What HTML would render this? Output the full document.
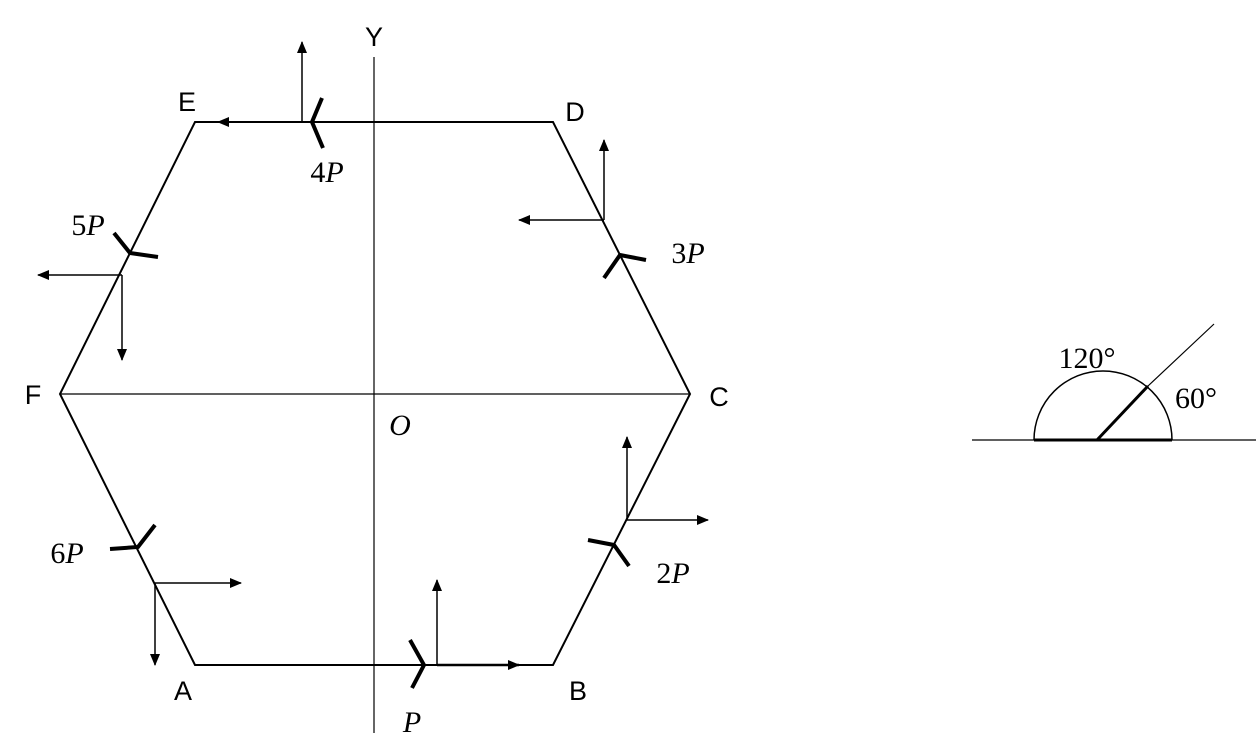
<!DOCTYPE html>
<html><head><meta charset="utf-8"><style>
html,body{margin:0;padding:0;background:#fff;}
svg{display:block;}
.sans{font-family:"Liberation Sans",sans-serif;font-size:27px;}
.mth{font-family:"Liberation Serif",serif;font-size:30px;}
</style></head><body>
<svg width="1258" height="749" viewBox="0 0 1258 749">
<defs>
<marker id="ah" markerWidth="12" markerHeight="10" refX="11" refY="5" orient="auto" markerUnits="userSpaceOnUse"><path d="M0,0 L12,5 L0,10 Z" fill="#000"/></marker>
</defs>
<g stroke="#000" fill="none" stroke-width="2">
<polygon points="195,665 553,665 690,394 553,122 195,122 60,394"/>
</g>
<line x1="60" y1="394" x2="690" y2="394" stroke="#000" stroke-width="1.2"/>
<line x1="374" y1="57" x2="374" y2="733" stroke="#000" stroke-width="1.2"/>
<g stroke="#000" stroke-width="1.5" marker-end="url(#ah)">
<line x1="437" y1="665" x2="519" y2="665" stroke-width="2.5"/>
<line x1="437" y1="665" x2="437" y2="580"/>
<line x1="302" y1="122" x2="218" y2="122" stroke-width="2"/>
<line x1="302" y1="122" x2="302" y2="42"/>
<line x1="604" y1="220" x2="604" y2="140"/>
<line x1="604" y1="220" x2="519" y2="220"/>
<line x1="627" y1="520" x2="627" y2="437"/>
<line x1="627" y1="520" x2="708" y2="520"/>
<line x1="122" y1="275" x2="38" y2="275"/>
<line x1="122" y1="275" x2="122" y2="360"/>
<line x1="155" y1="583" x2="241" y2="583"/>
<line x1="155" y1="583" x2="155" y2="665"/>
</g>
<g stroke="#000" stroke-width="4" fill="none">
<polyline points="410,640 424,665 412,688"/>
<polyline points="322,98 312,122 323,148"/>
<polyline points="604,278 620,255 646,260"/>
<polyline points="588,540 614,545 629,566"/>
<polyline points="114,233 130,253 158,257"/>
<polyline points="110,549 138,547 155,525"/>
</g>
<g class="sans" text-anchor="middle">
<text x="374" y="46">Y</text>
<text x="187" y="111">E</text>
<text x="575" y="121">D</text>
<text x="33" y="404">F</text>
<text x="719" y="406">C</text>
<text x="183" y="700">A</text>
<text x="578" y="700">B</text>
</g>
<g class="mth" text-anchor="middle">
<text x="400" y="435" font-style="italic">O</text>
<text x="327" y="182">4<tspan font-style="italic">P</tspan></text>
<text x="88" y="235">5<tspan font-style="italic">P</tspan></text>
<text x="688" y="263">3<tspan font-style="italic">P</tspan></text>
<text x="673" y="583">2<tspan font-style="italic">P</tspan></text>
<text x="67" y="563">6<tspan font-style="italic">P</tspan></text>
<text x="412" y="732" font-style="italic">P</text>
</g>
<g stroke="#000" fill="none">
<line x1="972" y1="440" x2="1256" y2="440" stroke-width="1.2"/>
<path d="M1034,440 A69,69 0 0 1 1172,440" stroke-width="1.5"/>
<line x1="1034" y1="440" x2="1172" y2="440" stroke-width="3"/>
<line x1="1097" y1="440" x2="1148" y2="386" stroke-width="3"/>
<line x1="1148" y1="386" x2="1214" y2="324" stroke-width="1.2"/>
</g>
<g class="mth" text-anchor="middle">
<text x="1087" y="368">120°</text>
<text x="1196" y="408">60°</text>
</g>
</svg>
</body></html>
